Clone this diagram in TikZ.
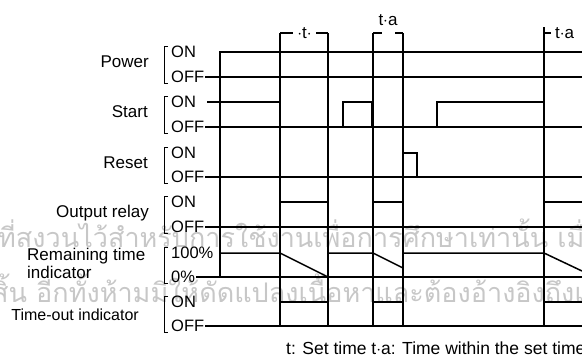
\documentclass[tikz,border=0pt]{standalone}
\usepackage{fontspec}
\setmainfont{Liberation Sans}
\newfontfamily\thaifont[Script=Thai]{Loma}
\usepackage{tikz}
\usetikzlibrary{calc}

\tikzset{
  sig/.style={line width=1.5pt},
  tick/.style={line width=1.4pt},
  brk/.style={line width=1pt},
  lbl/.style={font=\fontsize{17}{18}\selectfont, inner sep=0pt},
  lvl/.style={font=\fontsize{16.5}{17}\selectfont, inner sep=0pt, anchor=west},
  wmark/.style={font=\thaifont\fontsize{27}{28}\selectfont, text=black!22, inner sep=0pt, anchor=west}
}

\begin{document}
\begin{tikzpicture}[x=1pt, y=-1pt]
\useasboundingbox (0,0) rectangle (582,357);

\node[wmark] (wm1) at (-2,233) {ที่สงวนไว้สำหรับการใช้งานเพื่อการศึกษาเท่านั้น เมื่อ};
\node[wmark] (wm2) at (-8,288) {สิ้น อีกทั้งห้ามมิให้ดัดแปลงเนื้อหาและต้องอ้างอิงถึงแ};

% row names
\node[lbl, anchor=east] (power) at (149,62) {Power};
\node[lbl, anchor=east] (start) at (148,112) {Start};
\node[lbl, anchor=east] (reset) at (148,163) {Reset};
\node[lbl, anchor=east] (output) at (149,213) {Output relay};
\node[lbl, anchor=west, align=left] (remain) at (27,263) {Remaining time\\indicator};
\node[lbl, anchor=east, font=\fontsize{16}{17}\selectfont] (timeout) at (139,315) {Time-out indicator};

% levels and brackets
\foreach \on/\off/\a/\b/\n in {52/77/ON/OFF/p, 102/127/ON/OFF/s, 153/177/ON/OFF/r, 202/227/ON/OFF/o, 253/277/100\%/0\%/m, 302/326/ON/OFF/t}{
  \node[lvl] (\n on) at (171,\on) {\a};
  \node[lvl] (\n off) at (171,\off) {\b};
  \draw[brk] (168,\on-6) -- (164,\on-6) -- (164,\off+6) -- (168,\off+6);
  \draw[sig] (\n off.east) ++(1pt,0) -- (582,\off);
}

% power
\draw[sig] (220,77) -- (220,52) -- (582,52);
% start
\draw[sig] (207,102) -- (280,102) -- (280,127);
\draw[sig] (343,127) -- (343,102) -- (372,102) -- (372,127);
\draw[sig] (437,127) -- (437,102) -- (544,102) -- (544,127);
% reset
\draw[sig] (403,177) -- (403,153) -- (417,153) -- (417,177);
% output relay
\draw[sig] (280,202) -- (328,202);
\draw[sig] (373,202) -- (403,202);
\draw[sig] (544,202) -- (582,202);
% remaining time
\draw[sig] (220,253) -- (280,253) -- (328,277) -- (328,253) -- (373,253) -- (403,268) -- (403,253) -- (544,253) -- (582,271);
% time-out
\draw[sig] (280,302) -- (328,302);
\draw[sig] (373,302) -- (403,302);
\draw[sig] (544,302) -- (582,302);

% time marks
\draw[tick] (220,52) -- (220,277);
\foreach \x in {280,328,373,403}
  \draw[tick] (\x,33) -- (\x,326);
\draw[tick] (544,27) -- (544,326);

\draw[tick] (280,33) -- (293,33);
\draw[tick] (316,33) -- (328,33);
\node[lbl] (tset) at (304.5,33) {$\cdot$t$\cdot$};
\draw[tick] (373,33) -- (382,33);
\draw[tick] (395,33) -- (403,33);
\node[lbl] (ta1) at (388,20) {t$\cdot$a};
\draw[tick] (544,33) -- (551,33);
\node[lbl, anchor=west] (ta2) at (555,33) {t$\cdot$a};

\node[lbl, anchor=west, font=\fontsize{17.5}{18}\selectfont] (note) at (286,348) {t: Set time t$\cdot$a: Time within the set time};
\end{tikzpicture}
\end{document}
